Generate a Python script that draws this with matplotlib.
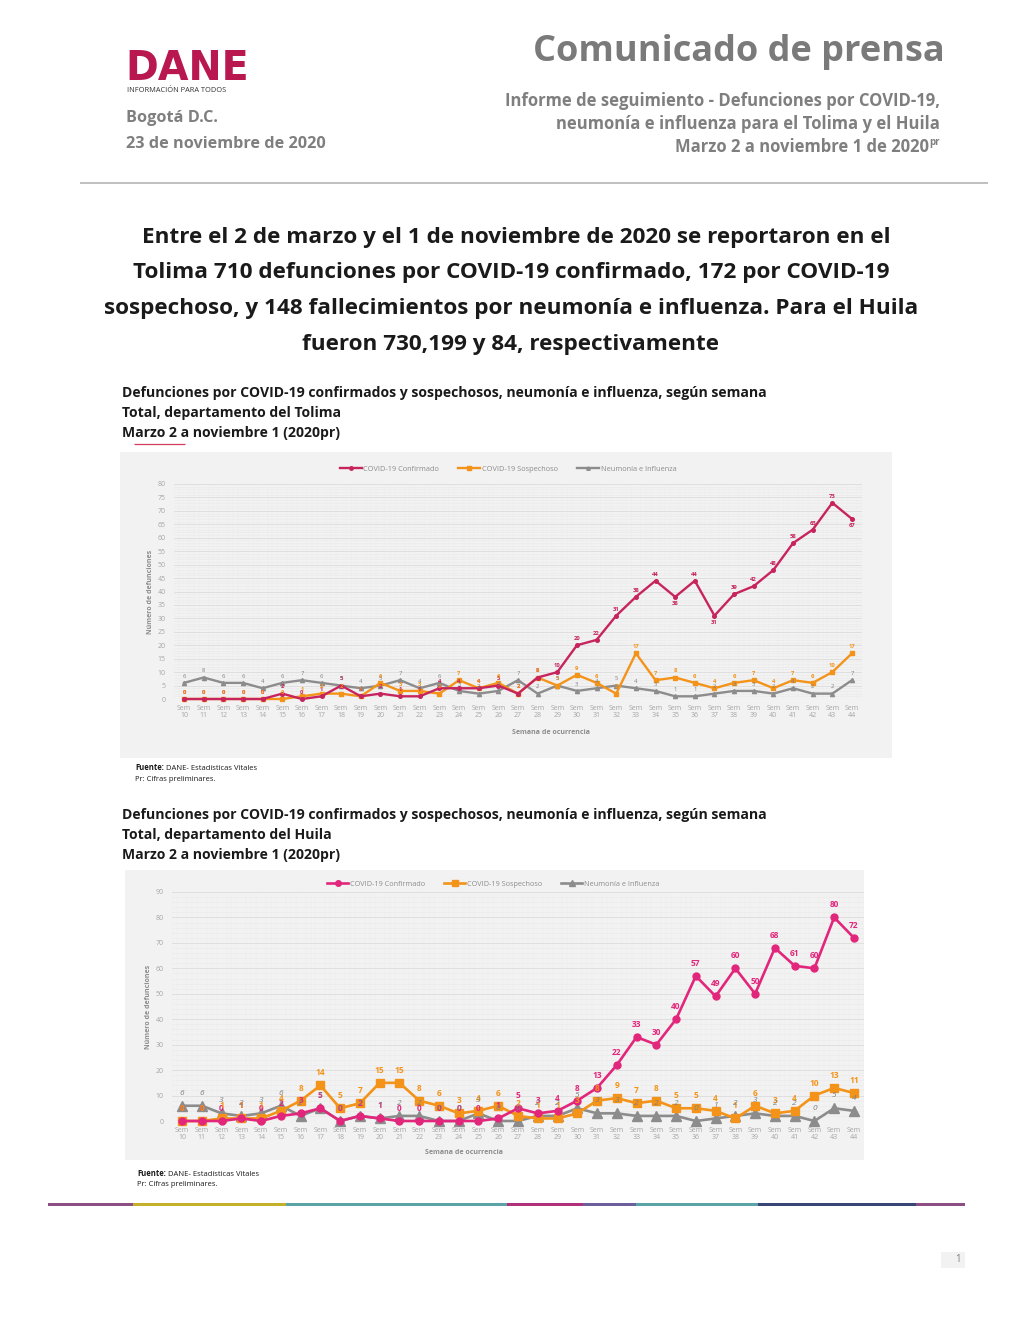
import matplotlib
matplotlib.use("Agg")
import matplotlib.pyplot as plt
from matplotlib.patches import Rectangle
from matplotlib.lines import Line2D
from matplotlib.ticker import MultipleLocator

# ---------------- data ----------------
weeks = list(range(10, 45))
week_labels = [f"Sem\n{w}" for w in weeks]

tolima_confirmado = [0, 0, 0, 0, 0, 2, 0, 1, 5, 1, 2, 1, 1, 4, 4, 4, 5, 2, 8, 10,
                     20, 22, 31, 38, 44, 38, 44, 31, 39, 42, 48, 58, 63, 73, 67]
tolima_sospechoso = [0, 0, 0, 0, 0, 0, 1, 2, 2, 1, 6, 3, 3, 2, 7, 4, 6, 2, 8, 5,
                     9, 6, 2, 17, 7, 8, 6, 4, 6, 7, 4, 7, 6, 10, 17]
tolima_neumonia = [6, 8, 6, 6, 4, 6, 7, 6, 5, 4, 5, 7, 4, 6, 3, 2, 3, 7, 2, 5,
                   3, 4, 5, 4, 3, 1, 1, 2, 3, 3, 2, 4, 2, 2, 7]

huila_confirmado = [0, 0, 0, 1, 0, 2, 3, 5, 0, 2, 1, 0, 0, 0, 0, 0, 1, 5, 3, 4,
                    8, 13, 22, 33, 30, 40, 57, 49, 60, 50, 68, 61, 60, 80, 72]
huila_sospechoso = [0, 0, 1, 1, 1, 4, 8, 14, 5, 7, 15, 15, 8, 6, 3, 4, 6, 2, 1, 1,
                    3, 8, 9, 7, 8, 5, 5, 4, 1, 6, 3, 4, 10, 13, 11]
huila_neumonia = [6, 6, 3, 2, 3, 6, 2, 5, 0, 2, 1, 2, 2, 0, 0, 3, 0, 0, 2, 2,
                  5, 3, 3, 2, 2, 2, 0, 1, 2, 3, 2, 2, 0, 5, 4]

series_names = ["COVID-19 Confirmado", "COVID-19 Sospechoso", "Neumonía e Influenza"]

# ---------------- figure ----------------
W, H = 1020, 1320
fig = plt.figure(figsize=(W / 100, H / 100), dpi=100)
fig.patch.set_facecolor("white")
FONT = "Open Sans"
plt.rcParams["font.family"] = [FONT, "DejaVu Sans"]


def fx(x):
    return x / W


def fy(y):
    return 1 - y / H


def txt(x, y, s, **kw):
    kw.setdefault("va", "center")
    return fig.text(fx(x), fy(y), s, **kw)


def rect(x0, y0, x1, y1, color, z=0):
    fig.add_artist(Rectangle((fx(x0), fy(y1)), (x1 - x0) / W, (y1 - y0) / H,
                             transform=fig.transFigure, facecolor=color,
                             edgecolor="none", zorder=z))


def hline(x0, x1, y, color, lw):
    fig.add_artist(Line2D([fx(x0), fx(x1)], [fy(y), fy(y)], transform=fig.transFigure,
                          color=color, lw=lw, solid_capstyle="butt"))


# ---------------- header ----------------
DANE_RED = "#b8174f"
txt(125, 69, "DANE", fontsize=28.5, fontweight="bold", color=DANE_RED, ha="left",
    family="DejaVu Sans")
txt(127, 91, "INFORMACIÓN PARA TODOS", fontsize=5.3, color="#333333", ha="left")
txt(126, 118, "Bogotá D.C.", fontsize=11.7, fontweight="bold", color="#7f7f7f", ha="left")
txt(126, 144, "23 de noviembre de 2020", fontsize=11.7, fontweight="bold", color="#7f7f7f", ha="left")

txt(945, 52, "Comunicado de prensa", fontsize=26, fontweight="bold", color="#7a7a7a", ha="right")
txt(940, 101, "Informe de seguimiento - Defunciones por COVID-19,", fontsize=12,
    fontweight="bold", color="#7f7f7f", ha="right")
txt(940, 124, "neumonía e influenza para el Tolima y el Huila", fontsize=12,
    fontweight="bold", color="#7f7f7f", ha="right")
txt(929, 147, "Marzo 2 a noviembre 1 de 2020", fontsize=12,
    fontweight="bold", color="#7f7f7f", ha="right")
txt(929, 142, "pr", fontsize=7, fontweight="bold", color="#7f7f7f", ha="left")
hline(80, 988, 183, "#bfbfbf", 1.4)

# ---------------- headline ----------------
headline = ["Entre el 2 de marzo y el 1 de noviembre de 2020 se reportaron en el",
            "Tolima 710 defunciones por COVID-19 confirmado, 172 por COVID-19",
            "sospechoso, y 148 fallecimientos por neumonía e influenza. Para el Huila",
            "fueron 730,199 y 84, respectivamente"]
for i, line in enumerate(headline):
    txt(516 if i == 0 else 511, 237 + i * 35.8, line, fontsize=16.2, fontweight="bold",
        color="#1a1a1a", ha="center")

# ---------------- chart titles ----------------
title_lines = ["Defunciones por COVID-19 confirmados y sospechosos, neumonía e influenza, según semana",
               None,
               "Marzo 2 a noviembre 1 (2020pr)"]


def chart_title(y0, dept):
    lines = [title_lines[0], f"Total, departamento del {dept}", title_lines[2]]
    for i, l in enumerate(lines):
        txt(122, y0 + i * 20, l, fontsize=10.1, fontweight="bold", color="#1a1a1a", ha="left")


chart_title(393, "Tolima")
hline(134, 185, 444, "#d33c5a", 0.9)
chart_title(815, "Huila")

# panels
rect(120, 452, 892, 758, "#f2f2f2")
rect(125, 870, 864, 1160, "#f2f2f2")


def source(x, y):
    txt(x, y, "Fuente:", fontsize=5.5, fontweight="bold", color="#1a1a1a", ha="left")
    txt(x + 31, y, "DANE- Estadísticas Vitales", fontsize=5.5, color="#1a1a1a", ha="left")
    txt(x, y + 11, "Pr: Cifras preliminares.", fontsize=5.5, color="#1a1a1a", ha="left")


source(135, 768)
source(137, 1174)


# ---------------- charts ----------------
def make_chart(box, ymax, ymajor, yminor, data, colors, small, label_y, legend_xy,
               xlabel_xy, ylabel_x):
    left, right, top, bottom = box
    ax = fig.add_axes([fx(left), fy(bottom), (right - left) / W, (bottom - top) / H])
    ax.set_facecolor("none")
    x = list(range(len(weeks)))
    ax.set_xlim(-0.5, len(weeks) - 0.5)
    ax.set_ylim(0, ymax)
    ax.yaxis.set_major_locator(MultipleLocator(ymajor))
    ax.yaxis.set_minor_locator(MultipleLocator(yminor))
    ax.xaxis.set_minor_locator(MultipleLocator(0.25))
    ax.grid(which="major", axis="y", color="#dcdcdc", lw=0.6)
    ax.grid(which="minor", axis="y", color="#e6e6e6", lw=0.4, ls=(0, (2, 1)))
    ax.grid(which="minor", axis="x", color="#ebebeb", lw=0.35, ls=(0, (2, 1)))
    for s in ax.spines.values():
        s.set_visible(False)
    ax.set_xticks(x)
    ax.set_xticklabels(week_labels, fontsize=5.0, color="#a6a6a6", linespacing=1.0)
    ax.tick_params(axis="both", which="both", length=0, pad=4)
    ax.tick_params(axis="y", labelsize=5.0, labelcolor="#a6a6a6", pad=6)

    markers = ["o", "s", "^"]
    msizes = [2.6, 2.6, 3.0] if small else [5.0, 5.5, 6.5]
    lw = 1.7 if small else 1.9
    handles = []
    for k, (vals, col) in enumerate(zip(data, colors)):
        z = 5 - k if k else 6
        h, = ax.plot(x, vals, color=col, lw=lw, marker=markers[k], ms=msizes[k],
                     clip_on=False, zorder=z, label=series_names[k])
        handles.append(h)
        for i, v in enumerate(vals):
            below = False
            if small and k == 0 and v >= 10:
                prev_v = vals[i - 1] if i > 0 else -1
                next_v = vals[i + 1] if i < len(vals) - 1 else -1
                below = v < prev_v and (i == len(vals) - 1 or v < next_v)
            off = -label_y if below else label_y
            ax.annotate(str(v), (i, v), xytext=(0, off), textcoords="offset points",
                        ha="center", va="center", fontsize=4.2 if small else 6.0,
                        fontweight="bold" if (k < 2) else "normal",
                        fontstyle="italic" if (k == 2 and not small) else "normal",
                        color=col if k < 2 else "#7f7f7f", zorder=8, annotation_clip=False)
    leg = fig.legend(handles=handles, loc="center", bbox_to_anchor=(fx(legend_xy[0]), fy(legend_xy[1])),
                     ncol=3, frameon=False, fontsize=5.3 if small else 5.2, handlelength=3.0,
                     columnspacing=2.6, handletextpad=0.2, labelcolor="#8c8c8c")
    for lh in leg.legend_handles:
        lh.set_markersize(2.5 if small else 4)
    txt(xlabel_xy[0], xlabel_xy[1], "Semana de ocurrencia", fontsize=5.0,
        fontweight="bold", color="#8c8c8c", ha="center")
    txt(ylabel_x, (top + bottom) / 2, "Número de defunciones", fontsize=5.0,
        fontweight="bold", color="#8c8c8c", ha="center", rotation=90)
    return ax


make_chart((174.2, 861.8, 484, 699), 80, 5, 1,
           [tolima_confirmado, tolima_sospechoso, tolima_neumonia],
           ["#c7245e", "#f39319", "#8c8c8c"], True, 4.8, (508, 469), (551, 732), 150)

make_chart((172.2, 863.8, 892, 1121), 90, 10, 2,
           [huila_confirmado, huila_sospechoso, huila_neumonia],
           ["#e2267b", "#f39319", "#8c8c8c"], False, 9.0, (493, 884), (464, 1152), 148)

# ---------------- footer ----------------
bar_edges = [48, 133, 286, 507, 583, 636, 758, 916, 965]
bar_colors = ["#8b4f84", "#c4b02a", "#5aa3a6", "#b0307a", "#6c5f9c", "#5aa3a6", "#3a4577", "#8b4f84"]
for (a, b), c in zip(zip(bar_edges[:-1], bar_edges[1:]), bar_colors):
    rect(a, 1203, b, 1206, c, z=2)

rect(941, 1252, 965, 1268, "#f2f2f2")
txt(958, 1260, "1", fontsize=7, color="#7f7f7f", ha="center")

fig.savefig("out.png", dpi=100, facecolor="white")
